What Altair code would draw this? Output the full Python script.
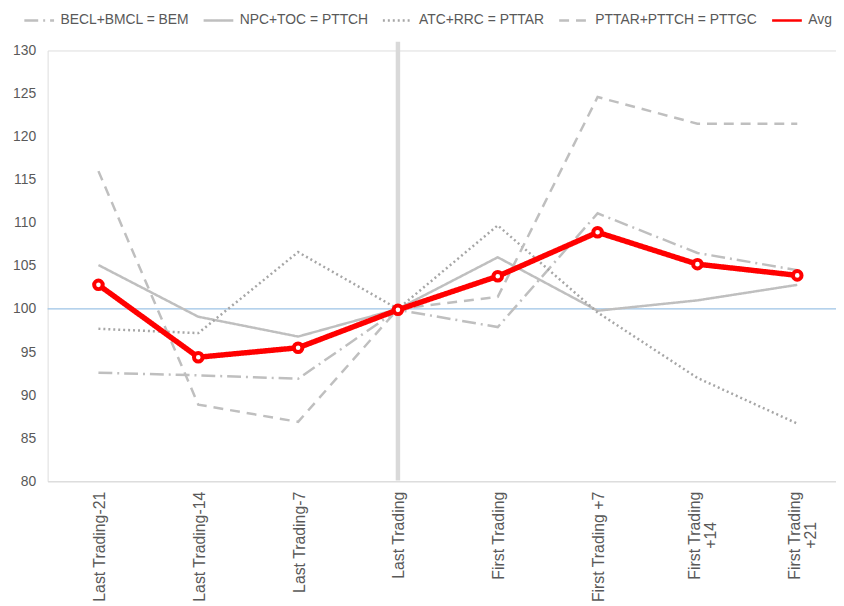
import json
import altair as alt
import pandas as pd

categories = ["Last Trading-21", "Last Trading-14", "Last Trading-7", "Last Trading",
              "First Trading", "First Trading +7", "First Trading\n+14", "First Trading\n+21"]
series_names = ["BECL+BMCL = BEM", "NPC+TOC = PTTCH", "ATC+RRC = PTTAR",
                "PTTAR+PTTCH = PTTGC", "Avg"]
bem = [92.6, 92.3, 91.9, 99.9, 97.9, 111.1, 106.5, 104.5]
pttch = [105.1, 99.1, 96.8, 100.0, 106.0, 99.8, 101.0, 102.8]
pttar = [97.7, 97.2, 106.6, 100.0, 109.7, 99.6, 92.0, 86.7]
pttgc = [116.0, 88.9, 86.9, 100.0, 101.4, 124.6, 121.5, 121.5]
avg = [102.8, 94.4, 95.5, 99.9, 103.8, 108.9, 105.2, 103.9]
y_ticks = [80, 85, 90, 95, 100, 105, 110, 115, 120, 125, 130]
ref_value = [100]
marker_category = "Last Trading"
marker_range = [131, 80.1]

series_values = [bem, pttch, pttar, pttgc, avg]
rows = []
for name, vals in zip(series_names, series_values):
    for i, (c, v) in enumerate(zip(categories, vals)):
        rows.append({"idx": i, "category": c, "series": name, "value": v})
df = pd.DataFrame(rows)

first_lines = [c.split("\n")[0] for c in categories]
second_lines = [c.split("\n")[1] if "\n" in c else "" for c in categories]
df_l2 = pd.DataFrame({"idx": list(range(len(categories))), "txt": second_lines})
df_l2 = df_l2[df_l2["txt"] != ""]

df_ref = pd.DataFrame({"y": ref_value})
df_marker = pd.DataFrame({"idx": [categories.index(marker_category)],
                          "y1": [marker_range[0]], "y2": [marker_range[1]]})

FONT = "Liberation Sans"
TXT = "#595959"
W, H = 796, 435

x_axis = alt.Axis(values=list(range(len(categories))),
                  labelExpr=json.dumps(first_lines) + "[datum.value]",
                  labelAngle=270, labelFontSize=16, labelColor=TXT, labelFont=FONT,
                  labelPadding=10, ticks=False, grid=False, domainColor="#D9D9D9",
                  domainWidth=1, title=None, labelOverlap=False, labelFlush=False,
                  labelOffset={"condition": {"test": "datum.value >= 6", "value": -3}, "value": 1})
x_enc = alt.X("idx:Q", scale=alt.Scale(domain=[-0.509, 7.388], nice=False, zero=False),
              axis=x_axis)
y_axis = alt.Axis(values=y_ticks, domain=False, ticks=False, grid=False,
                  labelFontSize=14, labelColor=TXT, labelFont=FONT, labelPadding=12,
                  title=None)
y_scale = alt.Scale(domain=[80, 130], nice=False, zero=False)

leg = dict(orient="none", legendX=-25, legendY=-47, direction="horizontal", title=None,
           symbolType="stroke", symbolSize=900, symbolStrokeWidth=2.5,
           labelFontSize=14, labelColor=TXT, labelLimit=400,
           labelFont=FONT, columnPadding=9, labelOffset=5)

color_enc = alt.Color("series:N", scale=alt.Scale(domain=series_names,
                      range=["#BFBFBF", "#BFBFBF", "#A6A6A6", "#BFBFBF", "#FF0000"]),
                      legend=alt.Legend(**leg))
dash_enc = alt.StrokeDash("series:N", scale=alt.Scale(domain=series_names,
                          range=[[14, 5, 2, 5], [1, 0], [2, 3], [10, 7], [1, 0]]),
                          legend=alt.Legend(**leg))

ref_rule = alt.Chart(df_ref).mark_rule(color="#9DC3E6", strokeWidth=1.3).encode(
    y=alt.Y("y:Q", scale=y_scale, axis=y_axis))

marker = alt.Chart(df_marker).mark_rule(color="#D9D9D9", strokeWidth=4.5).encode(
    x=x_enc, y=alt.Y("y1:Q", scale=y_scale, axis=y_axis), y2="y2:Q")

gray = alt.Chart(df).transform_filter(alt.datum.series != "Avg").mark_line(
    strokeWidth=2.5).encode(
    x=x_enc, y=alt.Y("value:Q", scale=y_scale, axis=y_axis),
    color=color_enc, strokeDash=dash_enc, detail="series:N")

avg_line = alt.Chart(df).transform_filter(alt.datum.series == "Avg").mark_line(
    strokeWidth=5.5).encode(
    x=x_enc, y=alt.Y("value:Q", scale=y_scale, axis=y_axis),
    color=color_enc, strokeDash=dash_enc)

avg_pts = alt.Chart(df).transform_filter(alt.datum.series == "Avg").mark_point(
    shape="circle", filled=True, fill="white", stroke="#FF0000", strokeWidth=4,
    size=75, opacity=1).encode(
    x=x_enc, y=alt.Y("value:Q", scale=y_scale, axis=y_axis))

line2 = alt.Chart(df_l2).mark_text(angle=270, align="center", baseline="middle", dy=14,
                                   fontSize=16, color=TXT, font=FONT).encode(
    x=x_enc, y=alt.value(H + 54.5), text="txt:N")

chart = alt.layer(ref_rule, marker, gray, avg_line, avg_pts, line2).properties(
    width=W, height=H,
    padding={"left": 40, "top": 40, "right": 0, "bottom": 123},
    autosize=alt.AutoSizeParams(type="none"),
).configure_view(stroke=None).configure(font=FONT)

chart.save("out.html", embed_options={"renderer": "svg", "actions": False})
